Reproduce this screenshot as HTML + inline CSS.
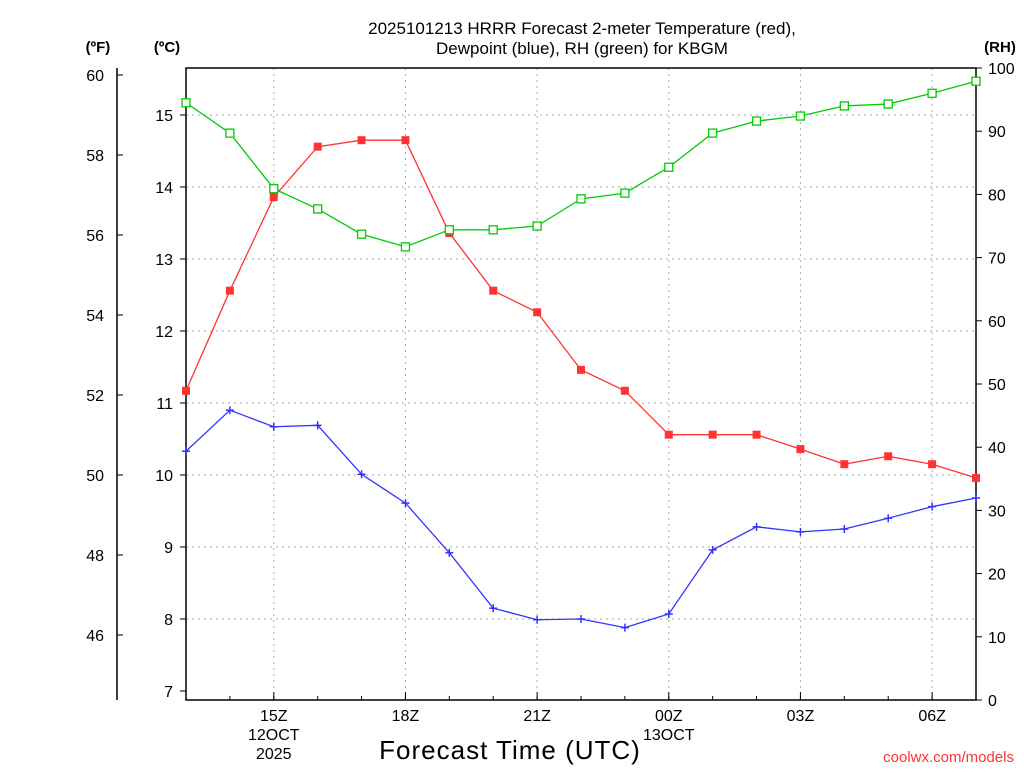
<!DOCTYPE html>
<html><head><meta charset="utf-8"><style>
body{margin:0;background:#fff;}
svg text{font-family:"Liberation Sans",sans-serif;}
</style></head><body>
<svg id="chart" width="1024" height="768" xmlns="http://www.w3.org/2000/svg">
<rect width="1024" height="768" fill="#fff"/>
<g id="grid"></g>
<g id="axes"></g>
<g id="series"></g>
<text x="582" y="34" font-size="17" text-anchor="middle">2025101213 HRRR Forecast 2-meter Temperature (red),</text>
<text x="582" y="54" font-size="17" text-anchor="middle">Dewpoint (blue), RH (green) for KBGM</text>
<text x="98" y="52" font-size="15" font-weight="bold" text-anchor="middle">(ºF)</text>
<text x="167" y="52" font-size="15" font-weight="bold" text-anchor="middle">(ºC)</text>
<text x="1000" y="52" font-size="15" font-weight="bold" text-anchor="middle">(RH)</text>
<text x="510" y="759" font-size="26" text-anchor="middle" letter-spacing="1">Forecast Time (UTC)</text>
<text x="1014" y="762" font-size="15" fill="#ff3333" text-anchor="end" font-family="Liberation Mono,monospace">coolwx.com/models</text>
</svg>
<script>
const hours=[13,14,15,16,17,18,19,20,21,22,23,24,25,26,27,28,29,30,31];
const tempC=[11.17,12.56,13.86,14.56,14.65,14.65,13.36,12.56,12.26,11.46,11.17,10.56,10.56,10.56,10.36,10.15,10.26,10.15,9.96];
const dewC=[10.33,10.90,10.67,10.69,10.01,9.61,8.92,8.15,7.99,8.00,7.88,8.07,8.96,9.28,9.21,9.25,9.40,9.56,9.68];
const rh=[94.5,89.7,80.9,77.7,73.7,71.7,74.4,74.4,75.0,79.3,80.2,84.3,89.7,91.6,92.4,94.0,94.3,96.0,97.9];
const cTicks=[7,8,9,10,11,12,13,14,15];
const fTicks=[46,48,50,52,54,56,58,60];
const rhTicks=[0,10,20,30,40,50,60,70,80,90,100];
const xTickHours=[15,18,21,24,27,30];
const xTickLabels=["15Z","18Z","21Z","00Z","03Z","06Z"];

const L=186,R=976,T=68,B=700;
const X=h=>L+(h-13)*(R-L)/18;
const YC=c=>691-(c-7)*72;
const YF=f=>YC((f-32)*5/9);
const YR=r=>B-r*(B-T)/100;
const NS="http://www.w3.org/2000/svg";
function mk(parent,tag,attrs,txt){const e=document.createElementNS(NS,tag);for(const k in attrs)e.setAttribute(k,attrs[k]);if(txt!==undefined)e.textContent=txt;document.getElementById(parent).appendChild(e);return e;}

cTicks.forEach(c=>{if(c>7&&c<=15){const g=mk('grid','line',{x1:L,x2:R,y1:YC(c),y2:YC(c),stroke:'#aaa','stroke-dasharray':'2,4'});

}});
xTickHours.forEach(h=>{const g=mk('grid','line',{x1:X(h),x2:X(h),y1:T,y2:B,stroke:'#aaa','stroke-dasharray':'2,4'});

});

mk('axes','rect',{x:L,y:T,width:R-L,height:B-T,fill:'none',stroke:'#000','stroke-width':1.5});
mk('axes','line',{x1:117,x2:117,y1:T,y2:B,stroke:'#000','stroke-width':1.5});
cTicks.forEach(c=>{mk('axes','line',{x1:L-6,x2:L,y1:YC(c),y2:YC(c),stroke:'#000'});
const t=mk('axes','text',{x:L-13,y:YC(c)+6,'font-size':16,'text-anchor':'end'},c);

});
fTicks.forEach(f=>{mk('axes','line',{x1:117,x2:123,y1:YF(f),y2:YF(f),stroke:'#000'});
const t=mk('axes','text',{x:104,y:YF(f)+6,'font-size':16,'text-anchor':'end'},f);

});
rhTicks.forEach(r=>{mk('axes','line',{x1:R,x2:R+6,y1:YR(r),y2:YR(r),stroke:'#000'});
const t=mk('axes','text',{x:988,y:YR(r)+6,'font-size':16},r);

});
hours.forEach(h=>mk('axes','line',{x1:X(h),x2:X(h),y1:B,y2:B-4,stroke:'#000'}));
xTickHours.forEach((h,i)=>{mk('axes','line',{x1:X(h),x2:X(h),y1:B,y2:B-8,stroke:'#000'});
const t=mk('axes','text',{x:X(h),y:721,'font-size':16,'text-anchor':'middle'},xTickLabels[i]);

});
[["12OCT",15,740],["2025",15,759],["13OCT",24,740]].forEach(a=>{const t=mk('axes','text',{x:X(a[1]),y:a[2],'font-size':16,'text-anchor':'middle'},a[0]);

});

function series(vals,yf,color,kind,name){
const pts=vals.map((v,i)=>X(hours[i])+','+yf(v)).join(' ');
const pl=mk('series','polyline',{points:pts,fill:'none',stroke:color,'stroke-width':1.3});


vals.forEach((v,i)=>{const x=X(hours[i]),y=yf(v);let m;
if(kind==='fill')m=mk('series','rect',{x:x-4,y:y-4,width:8,height:8,fill:color});
else if(kind==='open')m=mk('series','rect',{x:x-4,y:y-4,width:8,height:8,fill:'#fff',stroke:color,'stroke-width':1.3});
else m=mk('series','path',{d:`M${x-4},${y}H${x+4}M${x},${y-4}V${y+4}`,stroke:color,'stroke-width':1.5});

});}
series(tempC,YC,'#ff3333','fill','temperature');
series(dewC,YC,'#3333ff','plus','dewpoint');
series(rh,YR,'#00cc00','open','rh');
</script>
</body></html>
